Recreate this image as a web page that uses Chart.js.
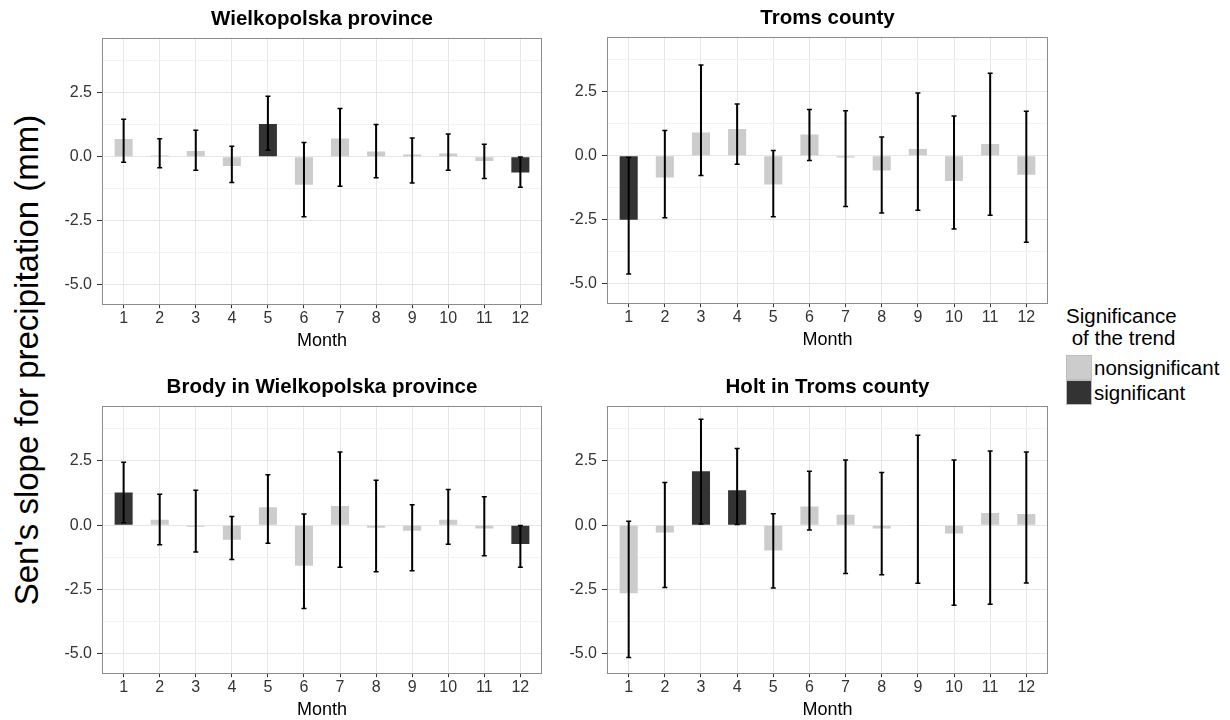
<!DOCTYPE html>
<html>
<head>
<meta charset="utf-8">
<script src="https://cdn.jsdelivr.net/npm/chart.js@4.4.1/dist/chart.umd.min.js"></script>
<style>
  body { margin: 0; width: 1230px; height: 720px; position: relative; overflow: hidden; background: #fff;
         font-family: "Liberation Sans", Arial, sans-serif; }
  canvas { position: absolute; }
  #ytitle { position: absolute; left: -323px; top: 340px; width: 700px; height: 40px; line-height: 40px;
            text-align: center; font-size: 33px; color: #000; transform: rotate(-90deg); }
  #legend { position: absolute; left: 1066px; top: 305px; font-size: 20.5px; color: #000; }
  #legend .ttl { line-height: 22px; }
  #legend .row { height: 25px; display: flex; align-items: center; }
  #legend .key { width: 24px; height: 23px; border: 1px solid #bdbdbd; margin-right: 2px; }
</style>
</head>
<body>
<div id="ytitle">Sen's slope for precipitation (mm)</div>
<canvas id="c1" width="520" height="360" style="left:40px;top:0px"></canvas>
<canvas id="c2" width="520" height="360" style="left:545px;top:-1px"></canvas>
<canvas id="c3" width="520" height="353" style="left:40px;top:368px"></canvas>
<canvas id="c4" width="520" height="353" style="left:545px;top:368px"></canvas>
<div id="legend">
  <div class="ttl">Significance<br>&nbsp;of the trend</div>
  <div style="height:6px"></div>
  <div class="row"><div class="key" style="background:#cccccc"></div>nonsignificant</div>
  <div class="row"><div class="key" style="background:#333333"></div>significant</div>
</div>
<script>
var months = [1, 2, 3, 4, 5, 6, 7, 8, 9, 10, 11, 12];
var yTicks = [-5, -3.75, -2.5, -1.25, 0, 1.25, 2.5, 3.75];

// Wielkopolska province
var wielkopolskaSlope = [0.69, 0.05, 0.23, -0.36, 1.28, -1.09, 0.71, 0.21, 0.09, 0.13, -0.16, -0.61];
var wielkopolskaLow   = [-0.21, -0.43, -0.52, -1.00, 0.26, -2.34, -1.15, -0.82, -1.02, -0.52, -0.85, -1.19];
var wielkopolskaHigh  = [1.46, 0.70, 1.04, 0.41, 2.36, 0.56, 1.88, 1.26, 0.73, 0.89, 0.49, -0.01];
var wielkopolskaSig   = [0, 0, 0, 0, 1, 0, 0, 0, 0, 0, 0, 1];

// Troms county
var tromsSlope = [-2.49, -0.85, 0.91, 1.05, -1.12, 0.83, -0.07, -0.57, 0.27, -0.98, 0.46, -0.74];
var tromsLow   = [-4.61, -2.42, -0.77, -0.33, -2.38, -0.18, -1.98, -2.23, -2.12, -2.86, -2.32, -3.37];
var tromsHigh  = [-0.07, 0.99, 3.54, 2.02, 0.21, 1.81, 1.76, 0.73, 2.45, 1.55, 3.22, 1.74];
var tromsSig   = [1, 0, 0, 0, 0, 0, 0, 0, 0, 0, 0, 0];

// Brody in Wielkopolska province
var brodySlope = [1.27, 0.21, -0.06, -0.56, 0.70, -1.57, 0.75, -0.10, -0.21, 0.21, -0.13, -0.73];
var brodyLow   = [0.10, -0.76, -1.04, -1.33, -0.70, -3.24, -1.63, -1.81, -1.77, -0.74, -1.19, -1.63];
var brodyHigh  = [2.45, 1.20, 1.36, 0.34, 1.96, 0.44, 2.85, 1.75, 0.80, 1.39, 1.11, -0.01];
var brodySig   = [1, 0, 0, 0, 0, 0, 0, 0, 0, 0, 0, 1];

// Holt in Troms county
var holtSlope = [-2.64, -0.28, 2.10, 1.36, -0.98, 0.73, 0.41, -0.13, -0.03, -0.32, 0.48, 0.44];
var holtLow   = [-5.14, -2.42, 0.05, 0.03, -2.44, -0.18, -1.88, -1.92, -2.25, -3.11, -3.07, -2.24];
var holtHigh  = [0.16, 1.66, 4.12, 2.98, 0.45, 2.10, 2.54, 2.05, 3.50, 2.54, 2.89, 2.85];
var holtSig   = [0, 0, 1, 1, 0, 0, 0, 0, 0, 0, 0, 0];

var panelBox = {
    id: 'panelBox',
    afterDraw: function (chart) {
        var a = chart.chartArea, ctx = chart.ctx;
        ctx.save();
        ctx.strokeStyle = '#8c8c8c';
        ctx.lineWidth = 1;
        ctx.strokeRect(Math.round(a.left) + 0.5, Math.round(a.top) + 0.5,
                       Math.round(a.right - a.left) - 1, Math.round(a.bottom - a.top) - 1);
        ctx.restore();
    }
};

function isMajor(v) { return Math.abs(v / 2.5 - Math.round(v / 2.5)) < 1e-6; }

function renderPanel(name, title, slope, low, high, sig, padRight, padBottom) {
    var ctx = document.getElementById(name).getContext('2d');
    var caps = [];
    months.forEach(function (m, i) {
        caps.push({x: m, y: low[i]});
        caps.push({x: m, y: high[i]});
    });
    var barOpts = {grouped: false, barPercentage: 0.5, categoryPercentage: 1, borderWidth: 0};
    return new Chart(ctx, {
        type: 'bar',
        data: {
            datasets: [
                Object.assign({
                    label: 'error',
                    data: months.map(function (m, i) { return {x: m, y: [low[i], high[i]]}; }),
                    backgroundColor: '#000',
                    maxBarThickness: 2,
                    order: 0
                }, barOpts),
                {
                    type: 'scatter',
                    label: 'caps',
                    data: caps,
                    pointStyle: 'line',
                    pointRadius: 2.5,
                    pointBorderWidth: 1.5,
                    pointBorderColor: '#000',
                    order: 0
                },
                Object.assign({
                    label: 'nonsignificant',
                    data: months.map(function (m, i) { return {x: m, y: sig[i] ? null : slope[i]}; }),
                    backgroundColor: '#cccccc',
                    order: 1
                }, barOpts),
                Object.assign({
                    label: 'significant',
                    data: months.map(function (m, i) { return {x: m, y: sig[i] ? slope[i] : null}; }),
                    backgroundColor: '#333333',
                    order: 1
                }, barOpts)
            ]
        },
        options: {
            responsive: false,
            animation: false,
            layout: {padding: {left: 0, right: padRight, top: 0, bottom: padBottom}},
            plugins: {
                legend: {display: false},
                tooltip: {enabled: false},
                title: {
                    display: true,
                    text: title,
                    fullSize: false,
                    color: '#000',
                    font: {family: '"Liberation Sans", Arial, sans-serif', size: 20.5, weight: 'bold'},
                    padding: {top: 7, bottom: 6}
                }
            },
            scales: {
                x: {
                    type: 'linear',
                    min: 0.4,
                    max: 12.6,
                    offset: false,
                    afterBuildTicks: function (axis) {
                        axis.ticks = months.map(function (m) { return {value: m}; });
                    },
                    ticks: {
                        autoSkip: false,
                        maxRotation: 0,
                        padding: 1,
                        color: '#333',
                        font: {family: '"Liberation Sans", Arial, sans-serif', size: 16},
                        callback: function (v) { return String(v); }
                    },
                    grid: {offset: false, color: '#e6e6e6', tickColor: '#333', tickLength: 4},
                    border: {display: false},
                    title: {
                        display: true,
                        text: 'Month',
                        color: '#000',
                        font: {family: '"Liberation Sans", Arial, sans-serif', size: 18},
                        padding: {top: 1, bottom: 0}
                    }
                },
                y: {
                    min: -5.75,
                    max: 4.65,
                    afterBuildTicks: function (axis) {
                        axis.ticks = yTicks.map(function (v) { return {value: v}; });
                    },
                    afterFit: function (axis) { axis.width = 62; },
                    ticks: {
                        autoSkip: false,
                        padding: 5,
                        color: '#333',
                        font: {family: '"Liberation Sans", Arial, sans-serif', size: 16},
                        callback: function (v) { return isMajor(v) ? v.toFixed(1) : ''; }
                    },
                    grid: {
                        tickLength: 5,
                        color: function (c) { return isMajor(c.tick.value) ? '#e6e6e6' : '#f3f3f3'; },
                        tickColor: function (c) { return isMajor(c.tick.value) ? '#333' : 'rgba(0,0,0,0)'; }
                    },
                    border: {display: false}
                }
            }
        },
        plugins: [panelBox]
    });
}

renderPanel('c1', 'Wielkopolska province', wielkopolskaSlope, wielkopolskaLow, wielkopolskaHigh, wielkopolskaSig, 18, 8);
renderPanel('c2', 'Troms county', tromsSlope, tromsLow, tromsHigh, tromsSig, 17, 8);
renderPanel('c3', 'Brody in Wielkopolska province', brodySlope, brodyLow, brodyHigh, brodySig, 18, 0);
renderPanel('c4', 'Holt in Troms county', holtSlope, holtLow, holtHigh, holtSig, 17, 0);
</script>
</body>
</html>
